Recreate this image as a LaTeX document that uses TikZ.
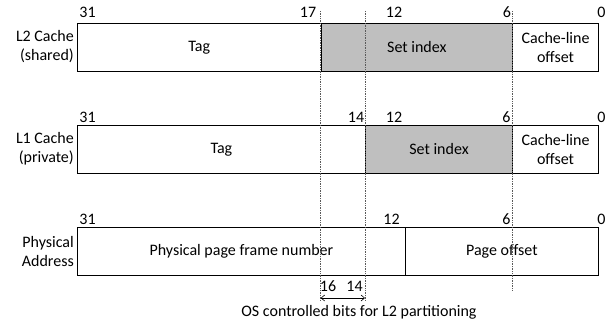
\documentclass[tikz,border=0pt]{standalone}
\usepackage{fontspec}
\setmainfont{Carlito}
\usetikzlibrary{arrows.meta}
\definecolor{setgray}{RGB}{191,191,191}
\definecolor{dotgray}{RGB}{90,90,90}
\begin{document}
\begin{tikzpicture}[x=1pt,y=-1pt,
  every node/.style={font=\fontsize{16}{19}\selectfont},
  field/.style={draw, line width=0.8pt, minimum height=48pt, inner sep=0pt, align=center, anchor=north west},
  setfield/.style={field, fill=setgray},
  num/.style={inner sep=0pt},
  rowlabel/.style={align=right, anchor=east, inner sep=0pt},
  guide/.style={densely dotted, line width=0.7pt, dotgray},
  span/.style={line width=0.6pt, {Straight Barb[length=3.5pt,width=6pt]}-{Straight Barb[length=3.5pt,width=6pt]}}
]
\useasboundingbox (0,0) rectangle (615,327);

% L2 cache
\node[field, minimum width=243.7pt] (l2tag) at (77,23) {Tag};
\node[setfield, minimum width=191.6pt] (l2set) at (320.7,23) {Set index};
\node[field, minimum width=85.7pt] (l2off) at (512.3,23) {Cache-line\\offset};
\node[rowlabel] (l2lab) at (74,47) {L2 Cache\\(shared)};
\node[num] (l2n31) at (87.5,12.5) {31};
\node[num] (l2n17) at (308,12.5) {17};
\node[num] (l2n12) at (394,12.5) {12};
\node[num] (l2n6) at (507,12.5) {6};
\node[num] (l2n0) at (601.5,12.5) {0};

% L1 cache
\node[field, minimum width=288pt] (l1tag) at (77,125) {Tag};
\node[setfield, minimum width=147.3pt] (l1set) at (365,125) {Set index};
\node[field, minimum width=85.7pt] (l1off) at (512.3,125) {Cache-line\\offset};
\node[rowlabel] (l1lab) at (74,149) {L1 Cache\\(private)};
\node[num] (l1n31) at (87.5,117.5) {31};
\node[num] (l1n14) at (356,117.5) {14};
\node[num] (l1n12) at (394,117.5) {12};
\node[num] (l1n6) at (506.5,117.5) {6};
\node[num] (l1n0) at (601.5,117.5) {0};

% Physical address
\node[field, minimum width=328pt] (pafn) at (77,227) {Physical page frame number};
\node[field, minimum width=193pt] (paoff) at (405,227) {Page offset};
\node[rowlabel] (palab) at (74,251) {Physical\\Address};
\node[num] (pan31) at (87.5,219) {31};
\node[num] (pan12) at (391.5,219) {12};
\node[num] (pan6) at (506.5,219) {6};
\node[num] (pan0) at (601.5,219) {0};

% guide lines
\coordinate (g17t) at (320.7,11);
\coordinate (g17b) at (320.7,301);
\coordinate (g14t) at (365,11);
\coordinate (g14b) at (365,301);
\coordinate (g6t) at (512.3,11);
\coordinate (g6b) at (512.3,291);
\draw[guide] (g17t) -- (g17b);
\draw[guide] (g14t) -- (g14b);
\draw[guide] (g6t) -- (g6b);

% OS controlled bits
\node[num] (os16) at (328,286) {16};
\node[num] (os14) at (354.5,286) {14};
\coordinate (arl) at (320.7,298);
\coordinate (arr) at (365,298);
\draw[span] (arl) -- (arr);
\node[num] (oslab) at (359,312) {OS controlled bits for L2 partitioning};
\end{tikzpicture}
\end{document}
